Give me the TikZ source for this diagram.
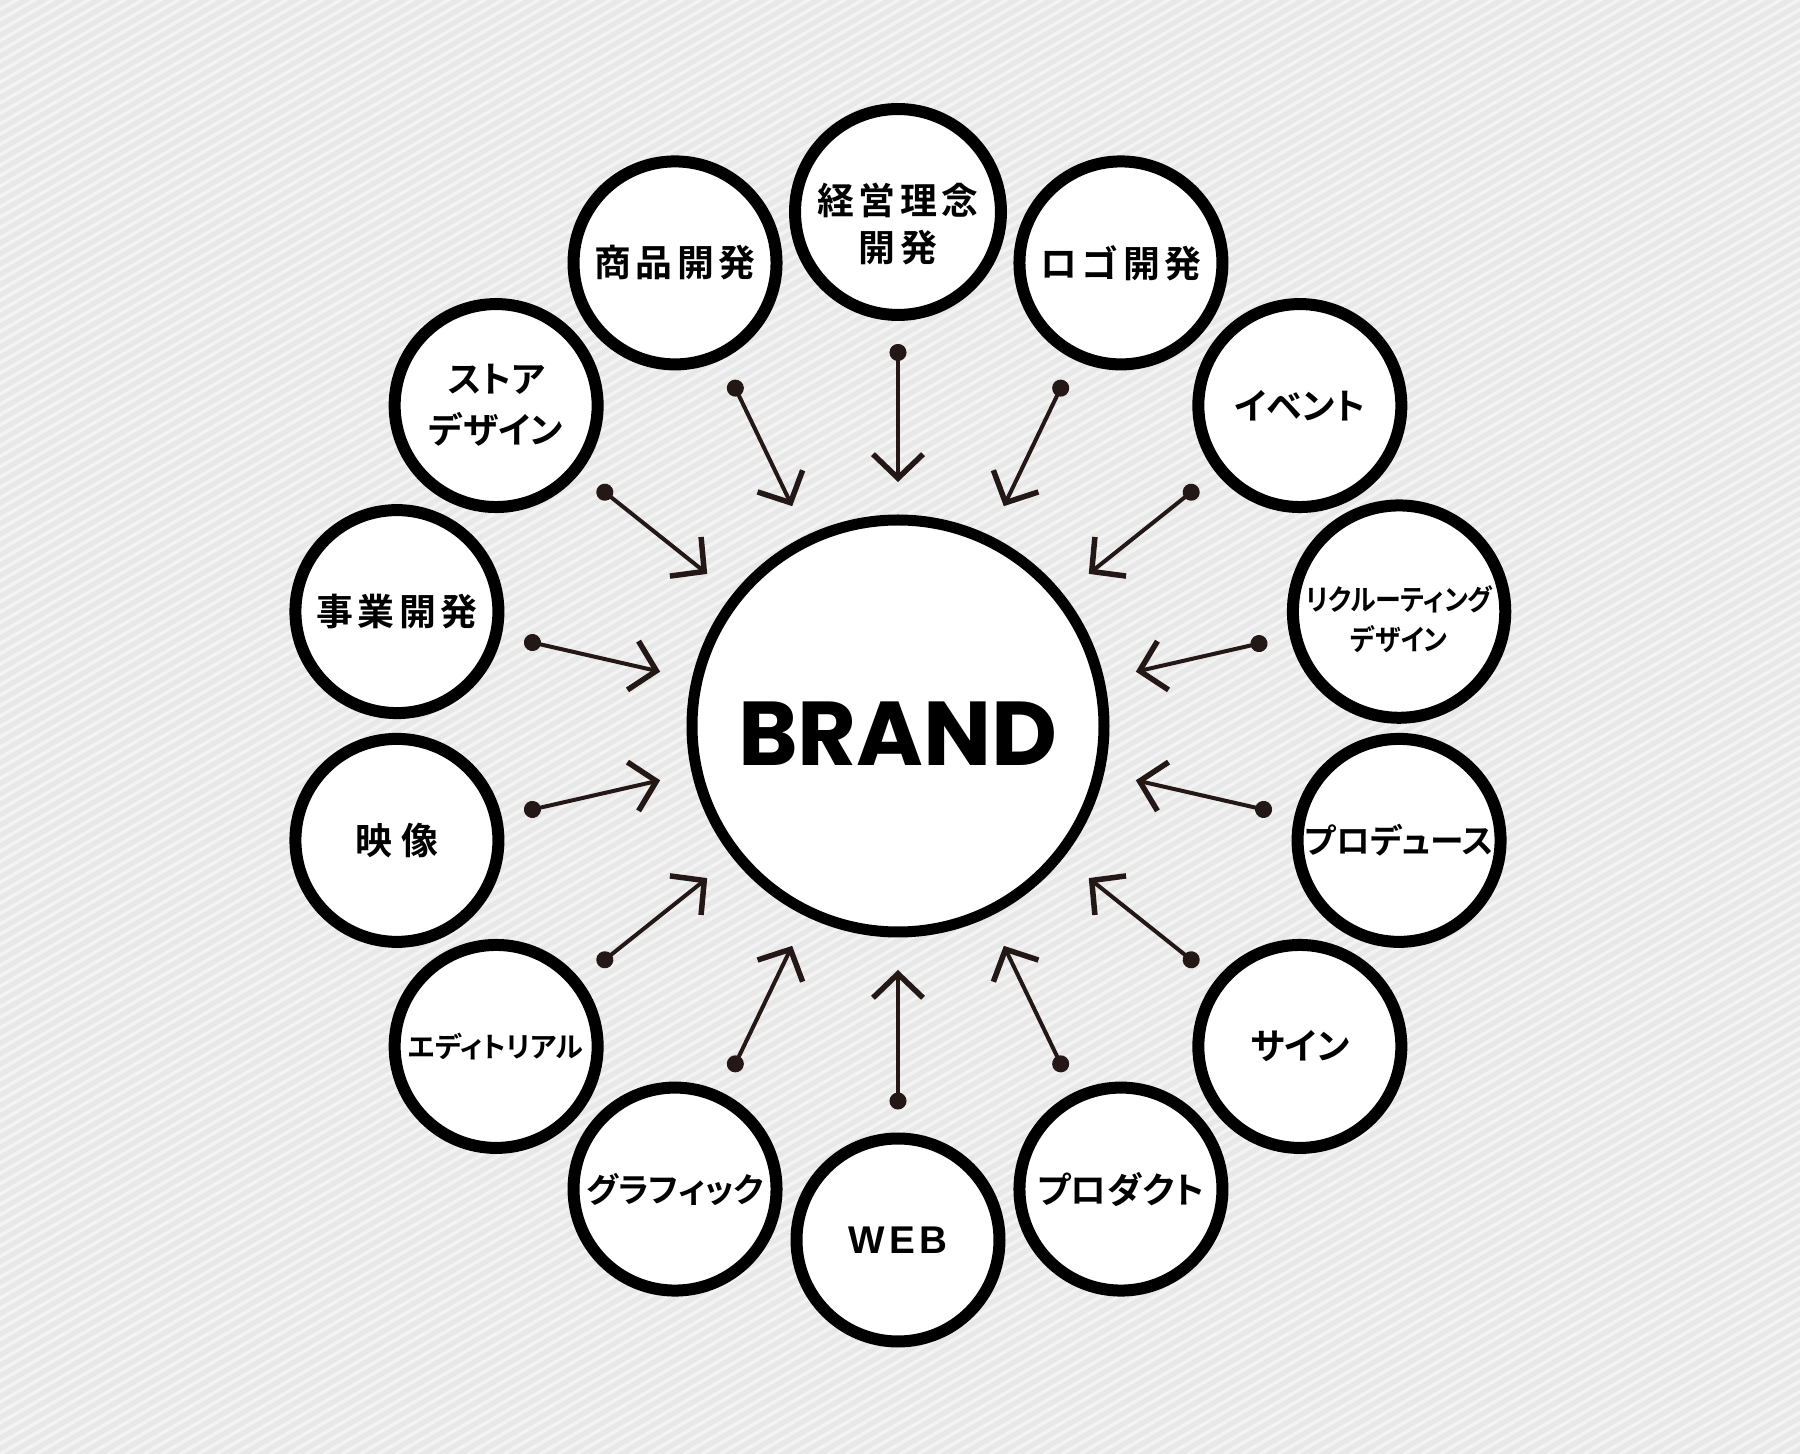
\documentclass[tikz,border=0pt]{standalone}
\usepackage{fontspec}
\usetikzlibrary{arrows.meta}
\newfontfamily\jpk{Noto Sans CJK JP Bold}[LetterSpace=12]
\newfontfamily\jpkana{Noto Sans CJK JP Bold}[RawFeature=+palt]
\newfontfamily\jpkanacond{Noto Sans CJK JP Bold}[RawFeature=+palt, FakeStretch=0.9]
\newfontfamily\jpwide{Noto Sans CJK JP Bold}[LetterSpace=24]
\newfontfamily\webfont{Liberation Sans Bold}[LetterSpace=12]
\newfontfamily\brandfont{Poppins Bold}
\newcommand\padtop[2]{\raisebox{0pt}[\dimexpr\height+#1\relax]{#2}}
\definecolor{bgbase}{HTML}{E8E8E8}
\definecolor{bgstripe}{HTML}{F3F3F3}
\definecolor{arrowcol}{HTML}{231815}
\tikzset{
  hub/.style={circle, draw=black, line width=0.11cm, fill=white, minimum size=4.12cm, inner sep=0pt, outer sep=0pt},
  spoke/.style={circle, draw=black, line width=0.12cm, fill=white, minimum size=2.03cm, inner sep=0pt, outer sep=0pt, align=center, text=black},
  conn/.style={draw=arrowcol, line width=0.04cm,
    {Circle[length=0.17cm]}-{Straight Barb[length=0.24cm,width=0.5cm,line width=0.055cm]},
    shorten <=0.29cm, shorten >=0.38cm},
  kanji/.style={font=\jpk\fontsize{10.5}{13.6}\selectfont},
  kana/.style={font=\jpkana\fontsize{10.2}{14.5}\selectfont},
  kanamid/.style={font=\jpkana\fontsize{9.6}{14}\selectfont},
  kanasmall/.style={font=\jpkana\fontsize{8}{11.4}\selectfont},
  kanacond/.style={font=\jpkanacond\fontsize{8.2}{11.4}\selectfont},
}
\begin{document}
\begin{tikzpicture}
\useasboundingbox (0,0) rectangle (18,14.54);
\fill[bgbase] (0,0) rectangle (18,14.54);
\begin{scope}
\clip (0,0) rectangle (18,14.54);
\foreach \i in {-150,...,102}
  \draw[bgstripe, line width=0.035cm] ({\i*0.18},0) -- ++(30:30);
\end{scope}
\coordinate (c) at (8.98,7.28);
\node[hub] (brand) at (c) {\padtop{0.16cm}{\brandfont\fontsize{25.8}{30}\selectfont BRAND}};
\path (c) ++(90:5.14) node[spoke, kanji] (n0) {\padtop{0.33cm}{\begin{tabular}{@{}c@{}}経営理念\\開発\end{tabular}}};
\path (c) ++(64.29:5.14) node[spoke, kanji] (n1) {ロゴ開発};
\path (c) ++(38.57:5.14) node[spoke, kana] (n2) {イベント};
\path (c) ++(12.86:5.14) node[spoke, kanacond] (n3) {\padtop{0.22cm}{\begin{tabular}{@{}c@{}}リクルーティング\\デザイン\end{tabular}}};
\path (c) ++(-12.86:5.14) node[spoke, kanamid] (n4) {プロデュース};
\path (c) ++(-38.57:5.14) node[spoke, kana] (n5) {サイン};
\path (c) ++(-64.29:5.14) node[spoke, kana] (n6) {プロダクト};
\path (c) ++(-90:5.14) node[spoke, font=\webfont\fontsize{11}{13}\selectfont] (n7) {WEB};
\path (c) ++(-115.71:5.14) node[spoke, kanamid] (n8) {グラフィック};
\path (c) ++(-141.43:5.14) node[spoke, kanasmall] (n9) {エディトリアル};
\path (c) ++(-167.14:5.14) node[spoke, font=\jpwide\fontsize{10.5}{14.8}\selectfont] (n10) {映像};
\path (c) ++(167.14:5.14) node[spoke, kanji] (n11) {事業開発};
\path (c) ++(141.43:5.14) node[spoke, kana] (n12) {ストア\\デザイン};
\path (c) ++(115.71:5.14) node[spoke, kanji] (n13) {商品開発};
\foreach \k in {0,...,13}
  \draw[conn] (n\k) -- (brand);
\end{tikzpicture}
\end{document}
